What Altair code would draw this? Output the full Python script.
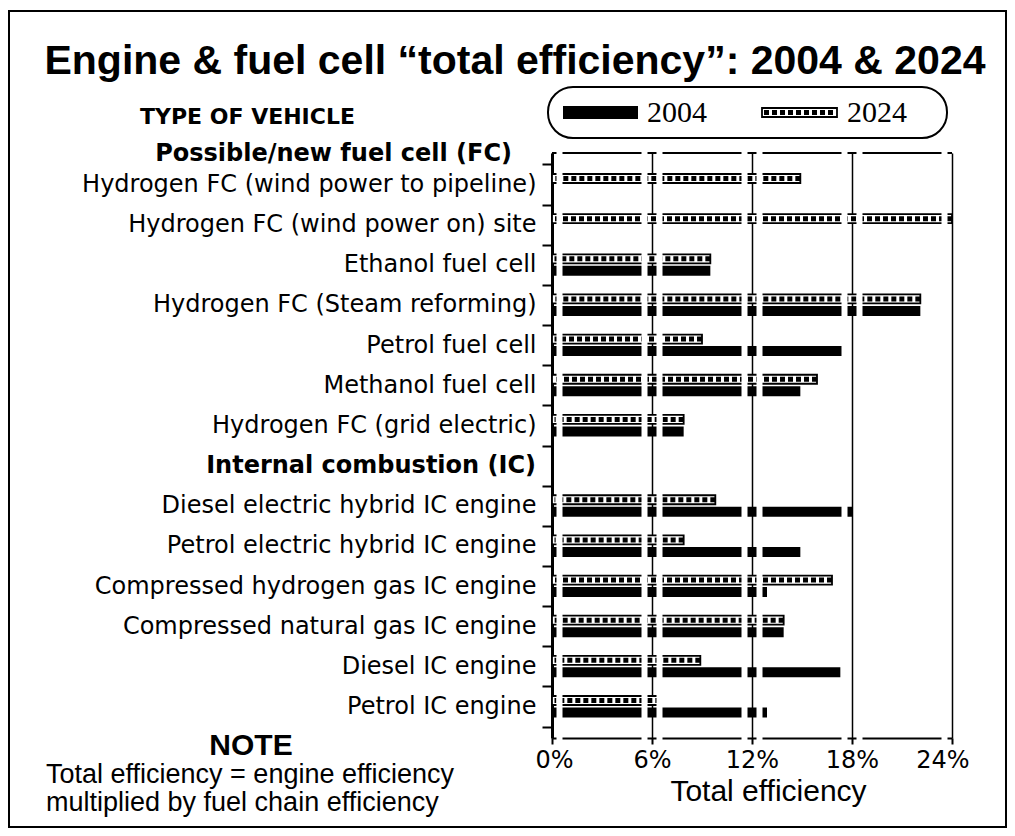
import altair as alt
import pandas as pd

# ---------------- data ----------------
categories = [
    "Hydrogen FC (wind power to pipeline)",
    "Hydrogen FC (wind power on) site",
    "Ethanol fuel cell",
    "Hydrogen FC (Steam reforming)",
    "Petrol fuel cell",
    "Methanol fuel cell",
    "Hydrogen FC (grid electric)",
    "Internal combustion (IC)",
    "Diesel electric hybrid IC engine",
    "Petrol electric hybrid IC engine",
    "Compressed hydrogen gas IC engine",
    "Compressed natural gas IC engine",
    "Diesel IC engine",
    "Petrol IC engine",
]
eff_2004 = [None, None, 9.5, 22.1, 17.4, 14.9, 7.9, None, 18.0, 14.9, 12.9, 13.9, 17.3, 12.9]
eff_2024 = [14.9, 24.0, 9.5, 22.1, 9.0, 15.9, 7.9, None, 9.8, 7.9, 16.8, 13.9, 8.9, 6.5]
x_ticks = [0, 6, 12, 18, 24]
header_fc = "Possible/new fuel cell (FC)"
header_ic = "Internal combustion (IC)"
title_text = "Engine & fuel cell \u201ctotal efficiency\u201d: 2004 & 2024"
note_lines = ["Total efficiency = engine efficiency", "multiplied by fuel chain efficiency"]

# ---------------- tables ----------------
df04 = pd.DataFrame({"vehicle": categories, "eff": eff_2004}).dropna()
df24 = pd.DataFrame({"vehicle": categories, "eff": eff_2024}).dropna()
df24["start"] = 0.15
grid_left = pd.DataFrame({"eff": x_ticks[1:]})
grid_right = pd.DataFrame({"eff": x_ticks[:-1]})
ic_df = pd.DataFrame({"vehicle": [header_ic]})
one = pd.DataFrame({"a": [0]})

W, H = 400, 585
SANS = "DejaVu Sans"
HELV = "Liberation Sans"

y_enc = alt.Y(
    "vehicle:N",
    sort=categories,
    scale=alt.Scale(domain=categories, paddingInner=0, paddingOuter=0.285),
    axis=alt.Axis(
        title=None,
        labelFont=SANS,
        labelFontSize=24,
        labelColor="black",
        labelLimit=700,
        labelPadding=6,
        labelExpr=f"datum.value === '{header_ic}' ? '' : datum.value",
        tickBand="extent",
        tickSize=10,
        tickWidth=2,
        tickColor="black",
        domainColor="black",
        domainWidth=3,
        grid=False,
    ),
)
x_scale = alt.Scale(domain=[0, 24], nice=False, zero=True)
x_axis = alt.Axis(
    values=x_ticks,
    labelExpr="datum.value + '%'",
    labelFont=SANS,
    labelFontSize=24,
    labelColor="black",
    labelPadding=4,
    labelFlush=True,
    labelFlushOffset=17,
    tickSize=6,
    tickWidth=2,
    tickColor="black",
    domainColor="black",
    domainWidth=2,
    grid=True,
    gridColor="black",
    gridWidth=1.5,
    gridOpacity=1,
    title="Total efficiency",
    titleFont=HELV,
    titleFontSize=30,
    titleFontWeight="normal",
    titleColor="black",
    titleX=216,
    titleY=53,
    titleBaseline="middle",
    titleAlign="center",
)
y_plain = alt.Y("vehicle:N", sort=categories)

# top border line of the plot
top_line = alt.Chart(one).mark_rule(color="black", strokeWidth=2).encode(
    x=alt.value(0), x2=alt.value(W), y=alt.value(0)
)

bars04 = alt.Chart(df04).mark_bar(color="black", size=10, yOffset=6).encode(
    x=alt.X("eff:Q", scale=x_scale, axis=x_axis), y=y_enc
)
bars24 = alt.Chart(df24).mark_bar(
    fill="white", stroke="black", strokeWidth=1.8, size=9, yOffset=-6
).encode(x=alt.X("eff:Q"), y=y_plain)
hatch24 = alt.Chart(df24).mark_rule(
    color="black", strokeWidth=5, strokeDash=[5, 3], yOffset=-6
).encode(x=alt.X("eff:Q"), x2=alt.X2("start"), y=y_plain)

# white halos beside the grid lines (scan look)
halo_l = alt.Chart(grid_left).mark_rule(color="white", strokeWidth=6, xOffset=-7.5).encode(
    x=alt.X("eff:Q"), y=alt.value(-2), y2=alt.value(H + 2)
)
halo_r = alt.Chart(grid_right).mark_rule(color="white", strokeWidth=6, xOffset=7.5).encode(
    x=alt.X("eff:Q"), y=alt.value(-2), y2=alt.value(H + 2)
)

# bold section label for internal combustion, on the category axis position
ic_lbl = alt.Chart(ic_df).mark_text(
    font=SANS, fontSize=24, fontWeight="bold", align="right", baseline="middle", color="black"
).encode(text="vehicle:N", y=y_plain, x=alt.value(-16))

# frame around the whole figure
frame = alt.Chart(one).mark_rect(fillOpacity=0, stroke="black", strokeWidth=2).encode(
    x=alt.value(-543), x2=alt.value(454), y=alt.value(-142), y2=alt.value(674)
)


def txt(s, x, y, size, font=HELV, weight="normal", align="left", baseline="middle"):
    return alt.Chart(one).mark_text(
        text=s, font=font, fontSize=size, fontWeight=weight, align=align,
        baseline=baseline, color="black"
    ).encode(x=alt.value(x), y=alt.value(y))


title = txt(title_text, -37, -91, 41, weight="bold", align="center")
type_lbl = txt("TYPE OF VEHICLE", -412, -36, 22, font=SANS, weight="bold")
fc_lbl = txt(header_fc, -40, 1, 24, font=SANS, weight="bold", align="right")
note_t = txt("NOTE", -301, 593, 30, weight="bold", align="center")
note_1 = txt(note_lines[0], -506, 622, 27)
note_2 = txt(note_lines[1], -506, 650, 27)

# legend (rounded box)
leg_box = alt.Chart(one).mark_rect(
    fill="white", stroke="black", strokeWidth=2, cornerRadius=25
).encode(x=alt.value(-4), x2=alt.value(395), y=alt.value(-66), y2=alt.value(-15))
leg_sw04 = alt.Chart(one).mark_rect(fill="black").encode(
    x=alt.value(11), x2=alt.value(86), y=alt.value(-47), y2=alt.value(-34)
)
leg_sw24 = alt.Chart(one).mark_rect(fill="white", stroke="black", strokeWidth=1.8).encode(
    x=alt.value(210), x2=alt.value(285), y=alt.value(-45), y2=alt.value(-36)
)
leg_h24 = alt.Chart(one).mark_rule(color="black", strokeWidth=5, strokeDash=[5, 3]).encode(
    x=alt.value(212), x2=alt.value(283), y=alt.value(-40.5)
)
leg_t04 = txt("2004", 95, -40, 30, font="Liberation Serif")
leg_t24 = txt("2024", 295, -40, 30, font="Liberation Serif")

chart = alt.layer(
    top_line, bars04, bars24, hatch24, halo_l, halo_r, ic_lbl,
    frame, title, type_lbl, fc_lbl, note_t, note_1, note_2,
    leg_box, leg_sw04, leg_sw24, leg_h24, leg_t04, leg_t24,
).properties(
    width=W, height=H,
    autosize=alt.AutoSizeParams(type="none"),
    padding={"left": 544, "top": 145, "right": 55, "bottom": 90},
).configure_view(stroke=None).configure(background="white")

chart.save("out.html", embed_options={"renderer": "svg", "actions": False})
